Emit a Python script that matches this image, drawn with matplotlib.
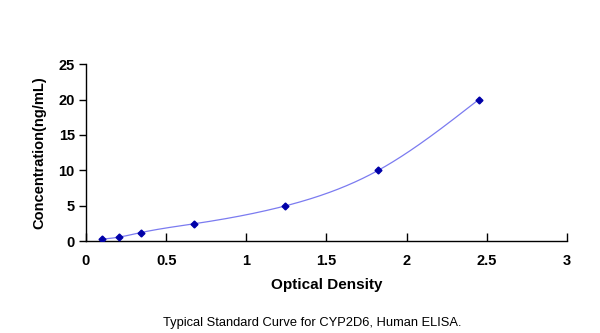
import numpy as np
import matplotlib
matplotlib.use("Agg")
import matplotlib.pyplot as plt

od = [0.098, 0.208, 0.341, 0.676, 1.241, 1.821, 2.450]
conc = [0.312, 0.625, 1.25, 2.5, 5, 10, 20]
xticks = [0, 0.5, 1, 1.5, 2, 2.5, 3]
xticklabels = ["0", "0.5", "1", "1.5", "2", "2.5", "3"]
yticks = [0, 5, 10, 15, 20, 25]


def natural_spline(x, y, xs):
    x = np.asarray(x, float); y = np.asarray(y, float)
    n = len(x)
    h = np.diff(x)
    A = np.zeros((n, n)); b = np.zeros(n)
    A[0, 0] = 1; A[-1, -1] = 1
    for i in range(1, n - 1):
        A[i, i - 1] = h[i - 1]
        A[i, i] = 2 * (h[i - 1] + h[i])
        A[i, i + 1] = h[i]
        b[i] = 3 * ((y[i + 1] - y[i]) / h[i] - (y[i] - y[i - 1]) / h[i - 1])
    c = np.linalg.solve(A, b)
    bb = np.zeros(n - 1); d = np.zeros(n - 1)
    for i in range(n - 1):
        bb[i] = (y[i + 1] - y[i]) / h[i] - h[i] * (2 * c[i] + c[i + 1]) / 3
        d[i] = (c[i + 1] - c[i]) / (3 * h[i])
    idx = np.clip(np.searchsorted(x, xs) - 1, 0, n - 2)
    dx = xs - x[idx]
    return y[idx] + bb[idx] * dx + c[idx] * dx ** 2 + d[idx] * dx ** 3


plt.rcParams["font.family"] = ["Liberation Sans", "DejaVu Sans"]
fig = plt.figure(figsize=(6, 3.33), dpi=100)
ax = fig.add_axes([0.1433, 0.2748, 0.8017, 0.533])

xs = np.linspace(od[0], od[-1], 400)
ax.plot(xs, natural_spline(od, conc, xs), color="#7b7bf0", lw=0.9, zorder=2)
ax.plot(od, conc, linestyle="none", marker="D", markersize=3.5,
        color="#0000a8", zorder=3)

ax.set_xlim(0, 3)
ax.set_ylim(0, 25)
ax.set_xticks(xticks)
ax.set_xticklabels(xticklabels)
ax.set_yticks(yticks)
for s in ["top", "right"]:
    ax.spines[s].set_visible(False)
for s in ["left", "bottom"]:
    ax.spines[s].set_linewidth(1.0)
ax.tick_params(axis="x", direction="in", length=6, width=1, pad=9)
ax.tick_params(axis="y", direction="out", length=5, width=1, pad=3)
for lab in ax.get_xticklabels() + ax.get_yticklabels():
    lab.set_fontweight("bold")
    lab.set_fontsize(10.5)

ax.set_xlabel("Optical Density", fontsize=11, fontweight="bold", labelpad=7)
ax.set_ylabel("Concentration(ng/mL)", fontsize=10.5, fontweight="bold", labelpad=9)

fig.text(0.52, 0.012, "Typical Standard Curve for CYP2D6, Human ELISA.",
         ha="center", va="bottom", fontsize=9.3)

fig.savefig("out.png", dpi=100)
